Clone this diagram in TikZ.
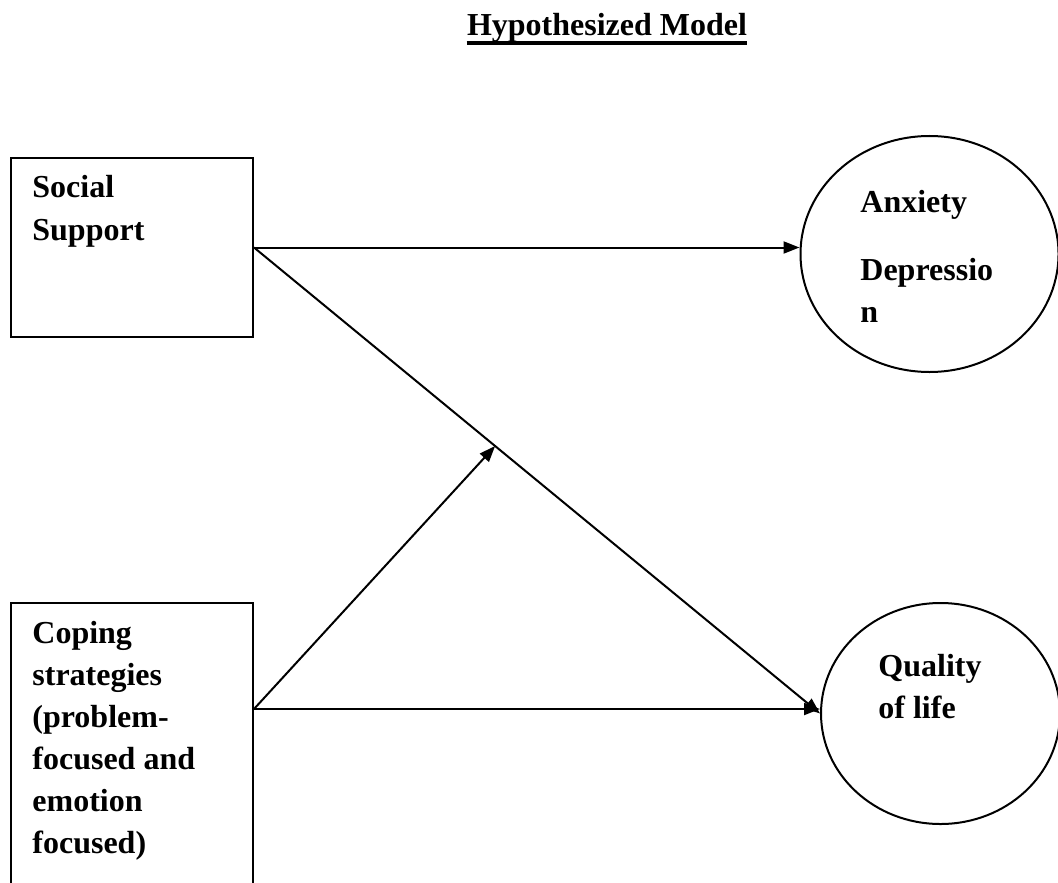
\documentclass[tikz,border=0pt]{standalone}
\usepackage{fontspec}
\setmainfont{Liberation Serif}
\usetikzlibrary{shapes.geometric,arrows.meta,calc}
\tikzset{
    varbox/.style={draw,line width=1pt,rectangle,inner sep=0,minimum width=121pt},
    varell/.style={draw,line width=1pt,ellipse,inner sep=0},
    vartext/.style={anchor=base west,inner sep=0,align=left,font=\fontsize{16}{21}\bfseries},
    path/.style={->,line width=1pt}
}

\begin{document}
\begin{tikzpicture}[x=.5pt,y=-.5pt,>={Triangle[length=8pt,width=6pt]}]
    \useasboundingbox(0,0)rectangle(1058,882);
    \clip(0,0)rectangle(1058,882);
    \node[anchor=base,inner sep=0,font=\fontsize{16}{21}\bfseries](title)at(607,36){Hypothesized Model};
    \draw[line width=1.8pt]([yshift=-3.5pt]title.base west)--([yshift=-3.5pt]title.base east);
    \node[varbox,minimum height=89.5pt](ss)at(132,247.5){};
    \node[varbox,minimum height=175pt](cs)at(132,778){};
    \node[varell,minimum width=129pt,minimum height=118pt](anx)at(929.5,254){};
    \node[varell,minimum width=119.5pt,minimum height=110.5pt](qol)at(940.5,713.5){};
    % base = last line
    \node[vartext](ss-text)at(32,240){Social\\Support};
    \node[vartext](cs-text)at(32,853){Coping\\strategies\\(problem-\\focused and\\emotion\\focused)};
    \node[vartext](anx-text)at(860,322){Anxiety\\[13pt]Depressio\\n};
    \node[vartext](qol-text)at(878,718){Quality\\of life};
    \coordinate(cs-out)at($(cs.north east)+(0,107)$);
    \coordinate(mid)at($(ss.east)!.426!(qol.west)$);
    \draw[path](ss.east)--(anx.west|-ss.east);
    \draw[path](ss.east)--(qol.west);
    \draw[path](cs-out)--(mid);
    \draw[path](cs-out)--(qol.west|-cs-out);
\end{tikzpicture}
\end{document}
